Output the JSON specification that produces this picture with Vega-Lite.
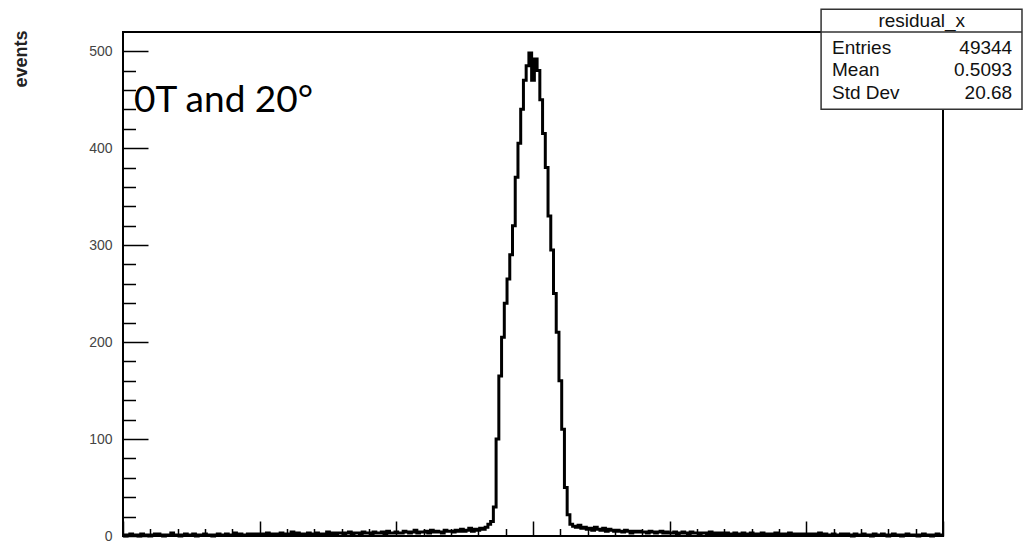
{
  "$schema": "https://vega.github.io/schema/vega-lite/v6.json",
  "width": 820,
  "height": 504,
  "autosize": {"type": "none"},
  "padding": {"left": 123, "top": 32, "right": 81, "bottom": 6},
  "background": "white",
  "title": {"text": "residual x (x y residual)", "anchor": "middle", "frame": "group", "offset": 28, "baseline": "alphabetic", "fontSize": 20, "font": "Liberation Sans", "fontWeight": "normal", "color": "#333"},
  "config": {"view": {"stroke": "#000", "strokeWidth": 2}, "axis": {"labelOverlap": false}},
  "resolve": {"axis": {"y": "independent", "x": "independent"}},
  "layer": [
    {
      "data": {"values": [
        {"x":-150,"n":1},{"x":-149,"n":0},{"x":-148,"n":1},{"x":-147,"n":2},{"x":-146,"n":1},{"x":-145,"n":1},{"x":-144,"n":0},{"x":-143,"n":2},{"x":-142,"n":1},{"x":-141,"n":1},
        {"x":-140,"n":0},{"x":-139,"n":1},{"x":-138,"n":2},{"x":-137,"n":2},{"x":-136,"n":1},{"x":-135,"n":0},{"x":-134,"n":1},{"x":-133,"n":1},{"x":-132,"n":3},{"x":-131,"n":1},
        {"x":-130,"n":1},{"x":-129,"n":0},{"x":-128,"n":1},{"x":-127,"n":2},{"x":-126,"n":1},{"x":-125,"n":1},{"x":-124,"n":2},{"x":-123,"n":0},{"x":-122,"n":1},{"x":-121,"n":1},
        {"x":-120,"n":2},{"x":-119,"n":1},{"x":-118,"n":1},{"x":-117,"n":0},{"x":-116,"n":1},{"x":-115,"n":2},{"x":-114,"n":1},{"x":-113,"n":1},{"x":-112,"n":2},{"x":-111,"n":1},
        {"x":-110,"n":1},{"x":-109,"n":3},{"x":-108,"n":1},{"x":-107,"n":2},{"x":-106,"n":1},{"x":-105,"n":1},{"x":-104,"n":2},{"x":-103,"n":1},{"x":-102,"n":2},{"x":-101,"n":1},
        {"x":-100,"n":2},{"x":-99,"n":1},{"x":-98,"n":2},{"x":-97,"n":3},{"x":-96,"n":1},{"x":-95,"n":2},{"x":-94,"n":2},{"x":-93,"n":1},{"x":-92,"n":3},{"x":-91,"n":2},
        {"x":-90,"n":1},{"x":-89,"n":2},{"x":-88,"n":4},{"x":-87,"n":2},{"x":-86,"n":3},{"x":-85,"n":2},{"x":-84,"n":1},{"x":-83,"n":2},{"x":-82,"n":3},{"x":-81,"n":2},
        {"x":-80,"n":2},{"x":-79,"n":3},{"x":-78,"n":2},{"x":-77,"n":1},{"x":-76,"n":2},{"x":-75,"n":4},{"x":-74,"n":2},{"x":-73,"n":3},{"x":-72,"n":2},{"x":-71,"n":3},
        {"x":-70,"n":3},{"x":-69,"n":2},{"x":-68,"n":3},{"x":-67,"n":4},{"x":-66,"n":2},{"x":-65,"n":3},{"x":-64,"n":3},{"x":-63,"n":2},{"x":-62,"n":4},{"x":-61,"n":3},
        {"x":-60,"n":3},{"x":-59,"n":2},{"x":-58,"n":4},{"x":-57,"n":3},{"x":-56,"n":3},{"x":-55,"n":4},{"x":-54,"n":2},{"x":-53,"n":5},{"x":-52,"n":3},{"x":-51,"n":3},
        {"x":-50,"n":4},{"x":-49,"n":3},{"x":-48,"n":3},{"x":-47,"n":5},{"x":-46,"n":4},{"x":-45,"n":3},{"x":-44,"n":4},{"x":-43,"n":6},{"x":-42,"n":3},{"x":-41,"n":4},
        {"x":-40,"n":4},{"x":-39,"n":5},{"x":-38,"n":3},{"x":-37,"n":6},{"x":-36,"n":4},{"x":-35,"n":5},{"x":-34,"n":4},{"x":-33,"n":3},{"x":-32,"n":6},{"x":-31,"n":5},
        {"x":-30,"n":5},{"x":-29,"n":4},{"x":-28,"n":6},{"x":-27,"n":5},{"x":-26,"n":7},{"x":-25,"n":5},{"x":-24,"n":6},{"x":-23,"n":8},{"x":-22,"n":5},{"x":-21,"n":7},
        {"x":-20,"n":6},{"x":-19,"n":8},{"x":-18,"n":7},{"x":-17,"n":9},{"x":-16,"n":12},{"x":-15,"n":15},{"x":-14,"n":30},{"x":-13,"n":100},{"x":-12,"n":165},{"x":-11,"n":205},
        {"x":-10,"n":240},{"x":-9,"n":265},{"x":-8,"n":290},{"x":-7,"n":320},{"x":-6,"n":370},{"x":-5,"n":405},{"x":-4,"n":440},{"x":-3,"n":470},{"x":-2,"n":485},{"x":-1,"n":498},
        {"x":0,"n":470},{"x":1,"n":492},{"x":2,"n":480},{"x":3,"n":450},{"x":4,"n":415},{"x":5,"n":380},{"x":6,"n":330},{"x":7,"n":295},{"x":8,"n":250},{"x":9,"n":210},
        {"x":10,"n":160},{"x":11,"n":110},{"x":12,"n":50},{"x":13,"n":22},{"x":14,"n":12},{"x":15,"n":10},{"x":16,"n":9},{"x":17,"n":11},{"x":18,"n":8},{"x":19,"n":9},
        {"x":20,"n":7},{"x":21,"n":8},{"x":22,"n":6},{"x":23,"n":9},{"x":24,"n":7},{"x":25,"n":6},{"x":26,"n":8},{"x":27,"n":5},{"x":28,"n":7},{"x":29,"n":6},
        {"x":30,"n":5},{"x":31,"n":6},{"x":32,"n":5},{"x":33,"n":4},{"x":34,"n":6},{"x":35,"n":5},{"x":36,"n":3},{"x":37,"n":5},{"x":38,"n":4},{"x":39,"n":5},
        {"x":40,"n":4},{"x":41,"n":4},{"x":42,"n":3},{"x":43,"n":5},{"x":44,"n":4},{"x":45,"n":3},{"x":46,"n":4},{"x":47,"n":5},{"x":48,"n":3},{"x":49,"n":4},
        {"x":50,"n":3},{"x":51,"n":3},{"x":52,"n":4},{"x":53,"n":2},{"x":54,"n":3},{"x":55,"n":4},{"x":56,"n":3},{"x":57,"n":2},{"x":58,"n":4},{"x":59,"n":3},
        {"x":60,"n":3},{"x":61,"n":2},{"x":62,"n":3},{"x":63,"n":3},{"x":64,"n":2},{"x":65,"n":4},{"x":66,"n":2},{"x":67,"n":3},{"x":68,"n":2},{"x":69,"n":3},
        {"x":70,"n":2},{"x":71,"n":3},{"x":72,"n":2},{"x":73,"n":2},{"x":74,"n":3},{"x":75,"n":1},{"x":76,"n":2},{"x":77,"n":3},{"x":78,"n":2},{"x":79,"n":2},
        {"x":80,"n":3},{"x":81,"n":2},{"x":82,"n":1},{"x":83,"n":2},{"x":84,"n":3},{"x":85,"n":2},{"x":86,"n":2},{"x":87,"n":1},{"x":88,"n":2},{"x":89,"n":3},
        {"x":90,"n":1},{"x":91,"n":2},{"x":92,"n":2},{"x":93,"n":1},{"x":94,"n":3},{"x":95,"n":2},{"x":96,"n":1},{"x":97,"n":2},{"x":98,"n":2},{"x":99,"n":1},
        {"x":100,"n":2},{"x":101,"n":1},{"x":102,"n":2},{"x":103,"n":2},{"x":104,"n":1},{"x":105,"n":3},{"x":106,"n":1},{"x":107,"n":2},{"x":108,"n":1},{"x":109,"n":1},
        {"x":110,"n":2},{"x":111,"n":1},{"x":112,"n":1},{"x":113,"n":2},{"x":114,"n":1},{"x":115,"n":2},{"x":116,"n":1},{"x":117,"n":0},{"x":118,"n":2},{"x":119,"n":1},
        {"x":120,"n":1},{"x":121,"n":2},{"x":122,"n":1},{"x":123,"n":1},{"x":124,"n":0},{"x":125,"n":2},{"x":126,"n":1},{"x":127,"n":1},{"x":128,"n":2},{"x":129,"n":1},
        {"x":130,"n":0},{"x":131,"n":1},{"x":132,"n":2},{"x":133,"n":1},{"x":134,"n":1},{"x":135,"n":0},{"x":136,"n":1},{"x":137,"n":2},{"x":138,"n":1},{"x":139,"n":1},
        {"x":140,"n":1},{"x":141,"n":0},{"x":142,"n":1},{"x":143,"n":2},{"x":144,"n":1},{"x":145,"n":1},{"x":146,"n":0},{"x":147,"n":1},{"x":148,"n":2},{"x":149,"n":1},{"x":150,"n":1}
      ]},
      "mark": {"type": "line", "interpolate": "step", "color": "#000", "strokeWidth": 3},
      "encoding": {
        "x": {"field": "x", "type": "quantitative",
          "scale": {"domain": [-150, 150], "nice": false, "zero": false},
          "axis": {"orient": "bottom", "values": [-150,-140,-130,-120,-110,-100,-90,-80,-70,-60,-50,-40,-30,-20,-10,0,10,20,30,40,50,60,70,80,90,100,110,120,130,140,150],
            "labels": false, "domain": false, "grid": false, "title": null,
            "tickSize": {"condition": {"test": "datum.value % 50 === 0", "value": -15}, "value": -7.5},
            "tickColor": "#000", "tickWidth": 1.5}},
        "y": {"field": "n", "type": "quantitative",
          "scale": {"domain": [0, 519.75], "nice": false, "zero": true},
          "axis": {"orient": "left", "values": [0,100,200,300,400,500],
            "domain": false, "grid": false, "labelOverlap": false,
            "tickSize": -25, "tickColor": "#000", "tickWidth": 1.5,
            "labelPadding": 36, "labelFont": "Liberation Sans", "labelFontSize": 14, "labelColor": "#444",
            "title": "events", "titleX": -97, "titleY": -2, "titleAngle": 270, "titleAlign": "right", "titleBaseline": "alphabetic",
            "titleFont": "Liberation Sans", "titleFontSize": 18, "titleFontWeight": "bold", "titleColor": "#222"}}
      }
    },
    {
      "data": {"values": [{}]},
      "mark": {"type": "text", "text": "0T and 20°", "font": "Lato", "fontSize": 37, "align": "left", "baseline": "alphabetic", "color": "#000"},
      "encoding": {"x": {"datum": -146, "axis": null}, "y": {"datum": 437.3, "axis": null}}
    },
    {
      "data": {"values": [{}]},
      "mark": {"type": "rect", "fill": "#fff", "stroke": "#333", "strokeWidth": 1.5},
      "encoding": {"x": {"datum": 105.4, "axis": null}, "x2": {"datum": 178.9},
        "y": {"datum": 543.3, "axis": {"orient": "left", "values": [20,40,60,80,120,140,160,180,220,240,260,280,320,340,360,380,420,440,460,480],
          "labels": false, "domain": false, "grid": false, "title": null, "tickSize": -12.5, "tickColor": "#000", "tickWidth": 1.5}},
        "y2": {"datum": 440.2}}
    },
    {
      "data": {"values": [{}]},
      "mark": {"type": "rule", "stroke": "#333", "strokeWidth": 1.5},
      "encoding": {"x": {"datum": 105.4, "axis": null}, "x2": {"datum": 178.9}, "y": {"datum": 519.75, "axis": null}}
    },
    {
      "data": {"values": [{}]},
      "mark": {"type": "text", "text": "residual_x", "font": "Liberation Sans", "fontSize": 19, "align": "center", "baseline": "alphabetic", "color": "#111"},
      "encoding": {"x": {"datum": 142.2, "axis": null}, "y": {"datum": 524.7, "axis": null}}
    },
    {
      "data": {"values": [{}]},
      "mark": {"type": "text", "text": "Entries", "font": "Liberation Sans", "fontSize": 19, "align": "left", "baseline": "alphabetic", "color": "#111"},
      "encoding": {"x": {"datum": 109.4, "axis": null}, "y": {"datum": 496.9, "axis": null}}
    },
    {
      "data": {"values": [{}]},
      "mark": {"type": "text", "text": "49344", "font": "Liberation Sans", "fontSize": 19, "align": "right", "baseline": "alphabetic", "color": "#111"},
      "encoding": {"x": {"datum": 175.3, "axis": null}, "y": {"datum": 496.9, "axis": null}}
    },
    {
      "data": {"values": [{}]},
      "mark": {"type": "text", "text": "Mean", "font": "Liberation Sans", "fontSize": 19, "align": "left", "baseline": "alphabetic", "color": "#111"},
      "encoding": {"x": {"datum": 109.4, "axis": null}, "y": {"datum": 474.2, "axis": null}}
    },
    {
      "data": {"values": [{}]},
      "mark": {"type": "text", "text": "0.5093", "font": "Liberation Sans", "fontSize": 19, "align": "right", "baseline": "alphabetic", "color": "#111"},
      "encoding": {"x": {"datum": 175.3, "axis": null}, "y": {"datum": 474.2, "axis": null}}
    },
    {
      "data": {"values": [{}]},
      "mark": {"type": "text", "text": "Std Dev", "font": "Liberation Sans", "fontSize": 19, "align": "left", "baseline": "alphabetic", "color": "#111"},
      "encoding": {"x": {"datum": 109.4, "axis": null}, "y": {"datum": 450.5, "axis": null}}
    },
    {
      "data": {"values": [{}]},
      "mark": {"type": "text", "text": "20.68", "font": "Liberation Sans", "fontSize": 19, "align": "right", "baseline": "alphabetic", "color": "#111"},
      "encoding": {"x": {"datum": 175.3, "axis": null}, "y": {"datum": 450.5, "axis": null}}
    }
  ]
}
